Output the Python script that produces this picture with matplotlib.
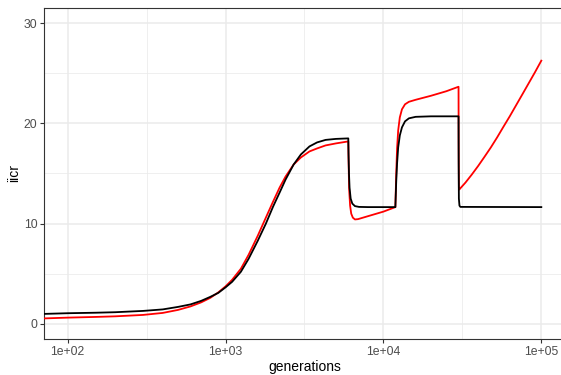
import numpy as np
import matplotlib
matplotlib.use("Agg")
import matplotlib.pyplot as plt
from matplotlib.ticker import FixedLocator, FuncFormatter

# IICR curves over generations (log scale)
gen_black = [70, 100, 150, 200, 300, 400, 500, 600, 700, 800, 900, 1000,
             1100, 1250, 1400, 1600, 1800, 2000, 2200, 2400, 2700, 3000,
             3400, 3800, 4300, 5000, 5990, 6010, 6050, 6100, 6200, 6350,
             6600, 7000, 8000, 11900, 11950, 12050, 12200, 12400, 12700,
             13100, 13700, 14500, 16000, 20000, 29900, 29950, 30050, 30300,
             30700, 100000]
iicr_black = [1.0, 1.07, 1.12, 1.17, 1.3, 1.45, 1.7, 1.95, 2.3, 2.7, 3.1, 3.65,
              4.2, 5.2, 6.5, 8.3, 10.0, 11.7, 13.1, 14.4, 15.9, 16.9,
              17.7, 18.1, 18.35, 18.45, 18.5, 17.0, 15.0, 13.6, 12.5, 12.0,
              11.75, 11.67, 11.65, 11.65, 12.5, 14.2, 16.0, 17.6, 18.8,
              19.6, 20.2, 20.5, 20.65, 20.7, 20.7, 16.0, 12.5, 11.8,
              11.67, 11.65]

gen_red = [70, 100, 150, 200, 300, 400, 500, 600, 700, 800, 900, 1000,
           1100, 1250, 1400, 1600, 1800, 2000, 2200, 2400, 2700, 3000,
           3400, 3800, 4300, 5000, 5990, 6010, 6060, 6150, 6250, 6400,
           6600, 6900, 8000, 10000, 11900, 11950, 12050, 12200, 12400,
           12700, 13100, 13700, 14500, 16000, 20000, 25000, 29900, 29950,
           30050, 30200, 33100, 36300, 39800, 43600, 47900, 52500, 57500,
           63100, 69200, 75900, 83200, 91200, 100000]
iicr_red = [0.55, 0.63, 0.7, 0.76, 0.9, 1.1, 1.4, 1.75, 2.15, 2.6, 3.15, 3.75,
            4.4, 5.5, 6.9, 8.8, 10.6, 12.2, 13.6, 14.7, 15.9, 16.6,
            17.2, 17.5, 17.8, 18.0, 18.2, 16.5, 13.5, 11.8, 11.0, 10.6,
            10.42, 10.45, 10.75, 11.2, 11.65, 12.8, 15.0, 17.5, 19.3,
            20.6, 21.4, 21.9, 22.15, 22.35, 22.75, 23.2, 23.65, 18.0,
            13.6, 13.4, 14.1, 14.9, 15.75, 16.65, 17.6, 18.6, 19.65,
            20.7, 21.8, 22.9, 24.0, 25.1, 26.25]

x_breaks = [1e2, 1e3, 1e4, 1e5]
x_minor = [10 ** 2.5, 10 ** 3.5, 10 ** 4.5]
y_breaks = [0, 10, 20, 30]
y_minor = [5, 15, 25]

plt.rcParams['font.family'] = ['Liberation Sans', 'DejaVu Sans']

W, H = 561, 375
fig = plt.figure(figsize=(W / 100, H / 100), dpi=100)
ax = fig.add_axes([44 / W, 36 / H, (565 - 44) / W, (339 - 8) / H])

ax.plot(gen_red, iicr_red, color='#FF0000', lw=1.3, zorder=3)
ax.plot(gen_black, iicr_black, color='black', lw=1.3, zorder=4)

ax.set_xscale('log')
ax.set_xlim(10 ** 1.85, 10 ** 5.15)
ax.set_ylim(-1.5, 31.5)

ax.xaxis.set_major_locator(FixedLocator(x_breaks))
ax.xaxis.set_minor_locator(FixedLocator(x_minor))
ax.yaxis.set_major_locator(FixedLocator(y_breaks))
ax.yaxis.set_minor_locator(FixedLocator(y_minor))
ax.xaxis.set_major_formatter(FuncFormatter(lambda v, p: f"{v:.0e}"))
ax.xaxis.set_minor_formatter(FuncFormatter(lambda v, p: ""))

ax.grid(which='major', color='#EBEBEB', lw=1.1, zorder=0)
ax.grid(which='minor', color='#EBEBEB', lw=0.55, zorder=0)
ax.set_axisbelow(True)

for s in ax.spines.values():
    s.set_color('#333333')
    s.set_linewidth(0.8)

ax.tick_params(which='major', length=2.7, width=0.8, color='#333333',
               labelcolor='#4D4D4D', labelsize=8.8, pad=2)
ax.tick_params(which='minor', length=0)

ax.set_xlabel('generations', fontsize=10, labelpad=2)
ax.set_ylabel('iicr', fontsize=10, labelpad=2)

fig.savefig('out.png', dpi=100)
